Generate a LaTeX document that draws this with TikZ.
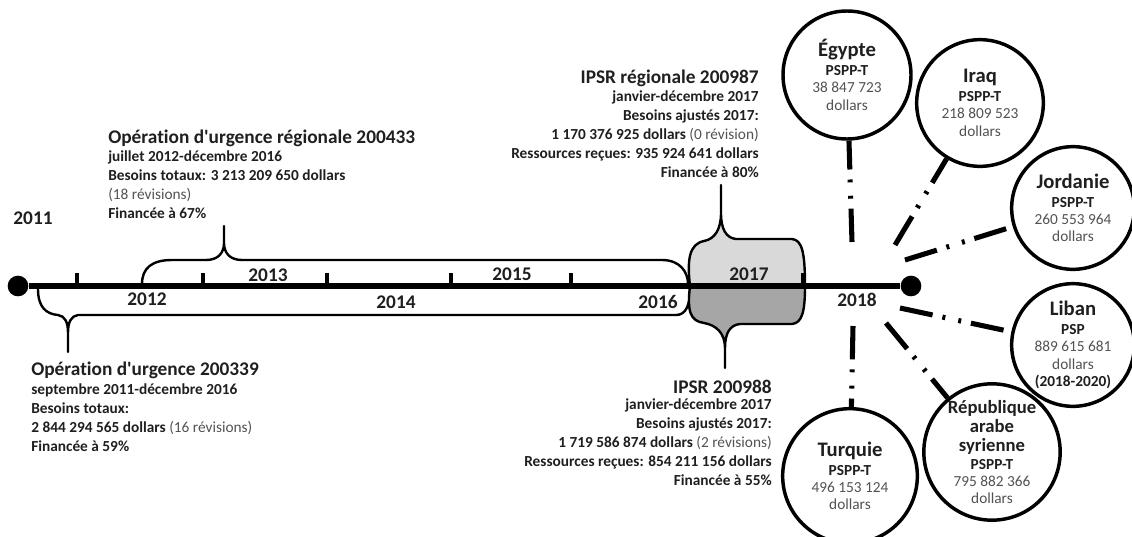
\documentclass[tikz,border=0pt]{standalone}
\usepackage{fontspec}
\setmainfont{Carlito}[Ligatures={TeX,NoCommon}]
\usetikzlibrary{positioning}

\definecolor{txtDark}{gray}{0.12}
\definecolor{txtGrey}{gray}{0.32}
\definecolor{fillUpper}{gray}{0.85}
\definecolor{fillLower}{gray}{0.65}

\def\titleFont{\fontsize{14.5}{17}\selectfont\bfseries}
\def\infoFont{\fontsize{11.5}{14.3}\selectfont\bfseries}
\def\revNote#1{{\mdseries\color{txtGrey}#1}}
\def\cName#1{{\fontsize{15.5}{16}\selectfont\bfseries\color{txtDark}#1}}
\def\cNameSmall#1{{\fontsize{14}{14}\selectfont\bfseries\color{txtDark}#1}}
\def\cProg#1{{\fontsize{11.5}{13}\selectfont\bfseries\color{txtDark}#1}}

\begin{document}
\begin{tikzpicture}[x=0.75pt, y=-0.75pt, line cap=round,
    timeline/.style={line width=5pt, line cap=butt},
    yeartick/.style={line width=3pt, line cap=butt},
    brace/.style={line width=1.8pt, line cap=butt, line join=round},
    yearlabel/.style={font=\titleFont, text=txtDark, inner sep=0pt},
    optitle/.style={font=\titleFont, text=txtDark, inner sep=0pt},
    opinfo/.style={font=\infoFont, text=txtDark, inner sep=0pt},
    enddot/.style={circle, fill=black, minimum size=15.5pt, inner sep=0pt},
    country/.style={circle, draw=black, line width=2.6pt, minimum size=95pt, inner sep=0pt,
      align=center, text=txtGrey, font=\fontsize{11.5}{13}\selectfont},
    link/.style={line width=3.8pt, line cap=butt,
      dash pattern=on 25pt off 7.5pt on 2.2pt off 10pt on 2.2pt off 7.5pt}]

  \useasboundingbox (0,0) rectangle (1132,536);

  % braces of the two emergency operations
  \draw[brace] (142,284) .. controls (142,268) and (152,260) .. (172,260) -- (206,260)
    .. controls (218,260) and (224,253) .. (224,243) -- (224,226) -- (224,243)
    .. controls (224,253) and (230,260) .. (242,260) -- (662,260)
    .. controls (680,260) and (688,272) .. (688,284);
  \draw[brace] (38,289) .. controls (38,307) and (46,314) .. (58,315)
    .. controls (65,316) and (68,322) .. (68,333) -- (68,352) -- (68,333)
    .. controls (68,322) and (71,316) .. (78,315) -- (676,315)
    .. controls (686,315) and (690,305) .. (690,289);

  % 2017
  \filldraw[brace, fill=fillUpper] (690,286) .. controls (687,260) and (689,244) .. (704,241)
    .. controls (715,239) and (721,229) .. (721,213) -- (721,185) -- (721,213)
    .. controls (721,229) and (726,238) .. (736,239) -- (792,239)
    .. controls (802,240) and (805,252) .. (805,286) -- cycle;
  \filldraw[brace, fill=fillLower] (690,286) .. controls (687,311) and (690,321) .. (704,323)
    .. controls (716,325) and (725,333) .. (725,348) -- (725,368) -- (725,348)
    .. controls (725,333) and (730,325) .. (740,324) -- (792,324)
    .. controls (802,323) and (805,312) .. (805,286) -- cycle;

  % time line
  \node[enddot] (start) at (18,286) {};
  \node[enddot] (end) at (911,286) {};
  \draw[timeline] (start) -- (end);
  \draw[yeartick] (77,286) -- (77,273);
  \draw[yeartick] (203,286) -- (203,273);
  \draw[yeartick] (327,286) -- (327,273);
  \draw[yeartick] (451,286) -- (451,273);
  \draw[yeartick] (571,286) -- (571,273);
  \draw[yeartick] (803,286) -- (803,273);

  \node[yearlabel] (y2011) at (33,218) {2011};
  \node[yearlabel] (y2012) at (147,299) {2012};
  \node[yearlabel] (y2013) at (268,275) {2013};
  \node[yearlabel] (y2014) at (396,302) {2014};
  \node[yearlabel] (y2015) at (512,274) {2015};
  \node[yearlabel] (y2016) at (658,302) {2016};
  \node[yearlabel] (y2017) at (749,274) {2017};
  \node[yearlabel] (y2018) at (857,300) {2018};

  % operations
  \node[optitle, anchor=base west] (uoRegTitle) at (108,143) {Opération d\textquotesingle urgence régionale 200433};
  \node[opinfo, align=left, below right=3pt and 0pt of uoRegTitle.south west] (uoRegInfo)
    {juillet 2012-décembre 2016\\Besoins totaux: 3 213 209 650 dollars\\\revNote{(18 révisions)}\\Financée à 67\%};

  \node[optitle, anchor=base west] (uoTitle) at (31,375) {Opération d\textquotesingle urgence 200339};
  \node[opinfo, align=left, below right=3.5pt and 0pt of uoTitle.south west] (uoInfo)
    {septembre 2011-décembre 2016\\Besoins totaux:\\2 844 294 565 dollars \revNote{(16 révisions)}\\Financée à 59\%};

  \node[optitle, anchor=base east] (ipsrRegTitle) at (759,83) {IPSR régionale 200987};
  \node[opinfo, align=right, below left=3pt and 0pt of ipsrRegTitle.south east] (ipsrRegInfo)
    {janvier-décembre 2017\\Besoins ajustés 2017:\\1 170 376 925 dollars \revNote{(0 révision)}\\Ressources reçues: 935 924 641 dollars\\Financée à 80\%};

  \node[optitle, anchor=base east] (ipsrTitle) at (772,393) {IPSR 200988};
  \node[opinfo, align=right, below left=3.5pt and 0pt of ipsrTitle.south east] (ipsrInfo)
    {janvier-décembre 2017\\Besoins ajustés 2017:\\1 719 586 874 dollars \revNote{(2 révisions)}\\Ressources reçues: 854 211 156 dollars\\Financée à 55\%};

  % 2018 countries
  \node[country, minimum size=96pt] (egypte) at (847,75) {\cName{Égypte}\\[1pt]\cProg{PSPP-T}\\38 847 723\\dollars};
  \node[country] (iraq) at (980,103) {\cName{Iraq}\\[1pt]\cProg{PSPP-T}\\218 809 523\\dollars};
  \node[country, minimum size=92pt] (jordanie) at (1073,208) {\cName{Jordanie}\\[1pt]\cProg{PSPP-T}\\260 553 964\\dollars};
  \node[country, minimum size=92pt] (liban) at (1073,345) {\cName{Liban}\\[1pt]\cProg{PSP}\\889 615 681\\dollars\\\cProg{(2018-2020)}};
  \node[country, minimum size=97pt] (syrie) at (992,452) {\cNameSmall{République}\\[1.5pt]\cNameSmall{arabe}\\[1.5pt]\cNameSmall{syrienne}\\[0pt]\cProg{PSPP-T}\\795 882 366\\dollars};
  \node[country, minimum size=101pt] (turquie) at (850,476) {\cName{Turquie}\\[1pt]\cProg{PSPP-T}\\496 153 124\\dollars};

  \coordinate (hEgypte) at (852,242);
  \coordinate (hIraq) at (895,245);
  \coordinate (hJordanie) at (905,260);
  \coordinate (hLiban) at (900,308);
  \coordinate (hSyrie) at (886,323);
  \coordinate (hTurquie) at (853,326);
  \draw[link] (hEgypte) -- (egypte);
  \draw[link] (hIraq) -- (iraq);
  \draw[link] (hJordanie) -- (jordanie);
  \draw[link] (hLiban) -- (liban);
  \draw[link] (hSyrie) -- (syrie);
  \draw[link] (hTurquie) -- (turquie);
\end{tikzpicture}
\end{document}
